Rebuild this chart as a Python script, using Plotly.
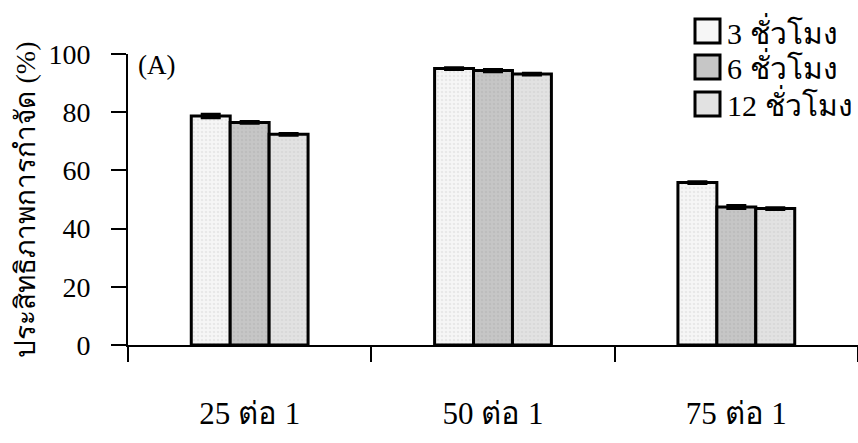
import plotly.graph_objects as go

# Removal efficiency (%) by ratio and contact time
ratios = ["25 ต่อ 1", "50 ต่อ 1", "75 ต่อ 1"]
series_names = ["3 ชั่วโมง", "6 ชั่วโมง", "12 ชั่วโมง"]
eff_3h = [78.7, 95.0, 55.8]
eff_6h = [76.5, 94.3, 47.4]
eff_12h = [72.4, 93.1, 46.9]
err_3h = [0.6, 0.3, 0.3]
err_6h = [0.3, 0.4, 0.5]
err_12h = [0.3, 0.3, 0.3]

values = [eff_3h, eff_6h, eff_12h]
errors = [err_3h, err_6h, err_12h]
fills = ["#f6f6f6", "#c6c6c6", "#e2e2e2"]
dots = ["#d9d9d9", "#b4b4b4", "#cfcfcf"]

W, H = 858, 443
ML, MR, MT, MB = 128, 0, 54, 98
SERIF = "Liberation Serif"

fig = go.Figure()
for name, v, e, fc, dc in zip(series_names, values, errors, fills, dots):
    fig.add_trace(go.Bar(
        x=ratios, y=v, name=name,
        marker=dict(color=fc, line=dict(color="black", width=3),
                    pattern=dict(shape=".", fgcolor=dc, bgcolor=fc, size=4, solidity=0.3)),
        error_y=dict(type="data", array=e, visible=True, color="black", thickness=3, width=10),
        showlegend=False,
    ))

# Invisible companion trace so the label-only axis is rendered
fig.add_trace(go.Scatter(x=ratios, y=eff_3h, yaxis="y2", mode="markers",
                         marker=dict(opacity=0), hoverinfo="skip", showlegend=False))

# Legend drawn as boxes + labels in the upper right
box_x0, box_x1 = 695, 720
row_y = [31, 67, 104]
for name, fc, yc in zip(series_names, fills, row_y):
    fig.add_shape(type="rect", xref="paper", yref="paper",
                  x0=(box_x0 - ML) / (W - ML - MR), x1=(box_x1 - ML) / (W - ML - MR),
                  y0=(H - MB - (yc + 12)) / (H - MT - MB), y1=(H - MB - (yc - 12)) / (H - MT - MB),
                  fillcolor=fc, line=dict(color="black", width=3))
    fig.add_annotation(xref="paper", yref="paper", x=(725 - ML) / (W - ML - MR),
                       y=(H - MB - yc) / (H - MT - MB), text=name, showarrow=False,
                       xanchor="left", yanchor="middle", font=dict(family=SERIF, size=30, color="black"))

fig.add_annotation(xref="paper", yref="paper", x=(136 - ML) / (W - ML - MR),
                   y=(H - MB - 65) / (H - MT - MB), text="(A)", showarrow=False,
                   xanchor="left", yanchor="middle", font=dict(family=SERIF, size=27, color="black"))

# Rotated axis title placed beside the tick labels
fig.add_annotation(xref="paper", yref="paper", x=(25 - ML) / (W - ML - MR), y=0.5,
                   text="ประสิทธิภาพการกำจัด (%)", textangle=-90, showarrow=False,
                   xanchor="center", yanchor="middle", font=dict(family=SERIF, size=28, color="black"))

fig.update_layout(
    width=W, height=H,
    margin=dict(l=ML, r=MR, t=MT, b=MB),
    paper_bgcolor="white", plot_bgcolor="rgba(0,0,0,0)",
    barmode="group", bargap=0.52, bargroupgap=0,
    font=dict(family=SERIF, color="black"),
    xaxis=dict(type="category", tickson="boundaries", ticks="outside", ticklen=15,
               tickwidth=1.5, tickcolor="black", showline=True, linecolor="black", linewidth=2,
               showgrid=False, tickfont=dict(family=SERIF, size=31), ticklabelstandoff=40),
    yaxis=dict(range=[0, 100], dtick=20, ticks="outside", ticklen=15, tickwidth=1.5,
               tickcolor="black", showline=True, linecolor="black", linewidth=1.5,
               showgrid=False, zeroline=False, showticklabels=False),
    yaxis2=dict(range=[0, 100], dtick=20, overlaying="y", side="left", ticks="outside",
                ticklen=31, tickcolor="rgba(0,0,0,0)", showline=False, showgrid=False,
                zeroline=False, tickfont=dict(family=SERIF, size=28)),
)

fig.write_html("out.html")
